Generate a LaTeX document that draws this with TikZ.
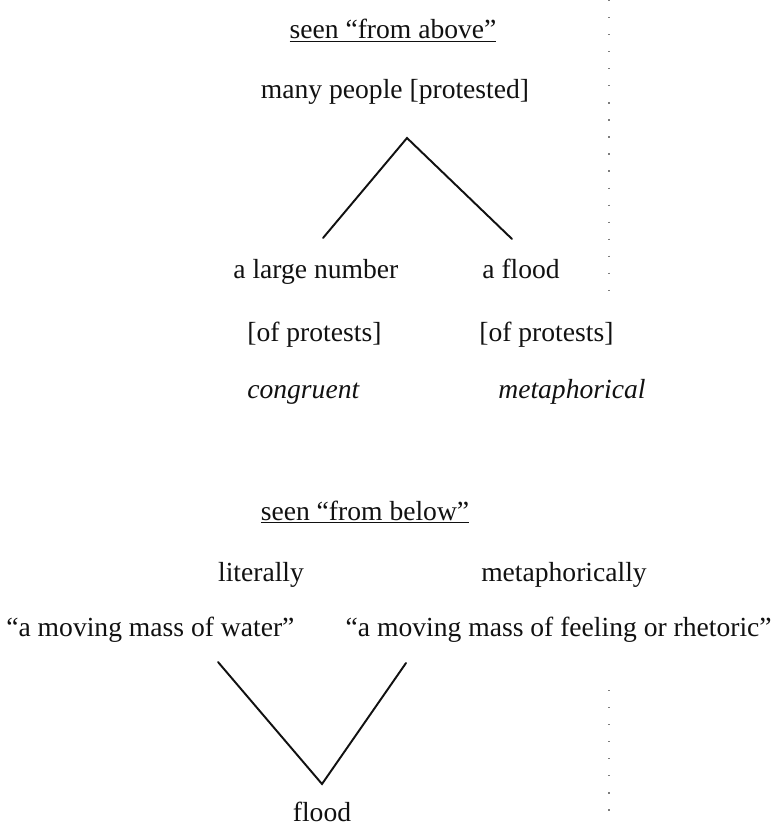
\documentclass[tikz,border=0pt]{standalone}
\usepackage{fontspec}
\setmainfont{Liberation Serif}
\usepackage{xcolor}
\definecolor{ink}{RGB}{17,17,17}
\definecolor{scanfr}{RGB}{125,125,125}
\tikzset{
  lbl/.style={anchor=base, inner sep=0pt, text=ink,
    font=\fontsize{15.7}{18}\selectfont},
  ilbl/.style={lbl, font=\fontsize{15.7}{18}\selectfont\itshape},
  branch/.style={draw=ink, line width=1.1pt, line cap=round},
  scanmark/.style={draw=scanfr, line width=0.6pt, dash pattern=on 0.7pt off 9pt},
}
\begin{document}
\begin{tikzpicture}[x=0.2mm, y=-0.2mm]
  \useasboundingbox (0,0) rectangle (774,827);
  % seen from above
  \node[lbl] (above) at (393,39) {\underline{seen “from above”}};
  \node[lbl] (many) at (395,99) {many people [protested]};
  \coordinate (apex) at (407,138);
  \coordinate (lfoot) at (323,238);
  \coordinate (rfoot) at (512,239);
  \draw[branch] (lfoot) -- (apex) -- (rfoot);
  \node[lbl, anchor=base west] (num) at (233,278) {a large number};
  \node[lbl, anchor=base west] (fld) at (482,278) {a flood};
  \node[lbl, anchor=base west] (numof) at (247,341) {[of protests]};
  \node[lbl, anchor=base west] (fldof) at (479,341) {[of protests]};
  \node[ilbl, anchor=base west] (cong) at (247,398) {congruent};
  \node[ilbl, anchor=base west] (meta) at (498,398) {metaphorical};
  % seen from below
  \node[lbl] (below) at (365,520) {\underline{seen “from below”}};
  \node[lbl] (lit) at (261,581) {literally};
  \node[lbl] (metly) at (564,581) {metaphorically};
  \node[lbl, anchor=base west] (water) at (6,636) {“a moving mass of water”};
  \node[lbl, anchor=base east] (rhet) at (772,636) {“a moving mass of feeling or rhetoric”};
  \coordinate (ltop) at (218,662);
  \coordinate (rtop) at (406,663);
  \coordinate (vbot) at (322,784);
  \draw[branch] (ltop) -- (vbot) -- (rtop);
  \node[lbl] (flood) at (322,821) {flood};
  % scan edge marks
  \coordinate (s1) at (609,0);
  \coordinate (s2) at (609,290);
  \coordinate (s3) at (609,690);
  \coordinate (s4) at (609,822);
  \draw[scanmark] (s1) -- (s2);
  \draw[scanmark] (s3) -- (s4);
\end{tikzpicture}
\end{document}
